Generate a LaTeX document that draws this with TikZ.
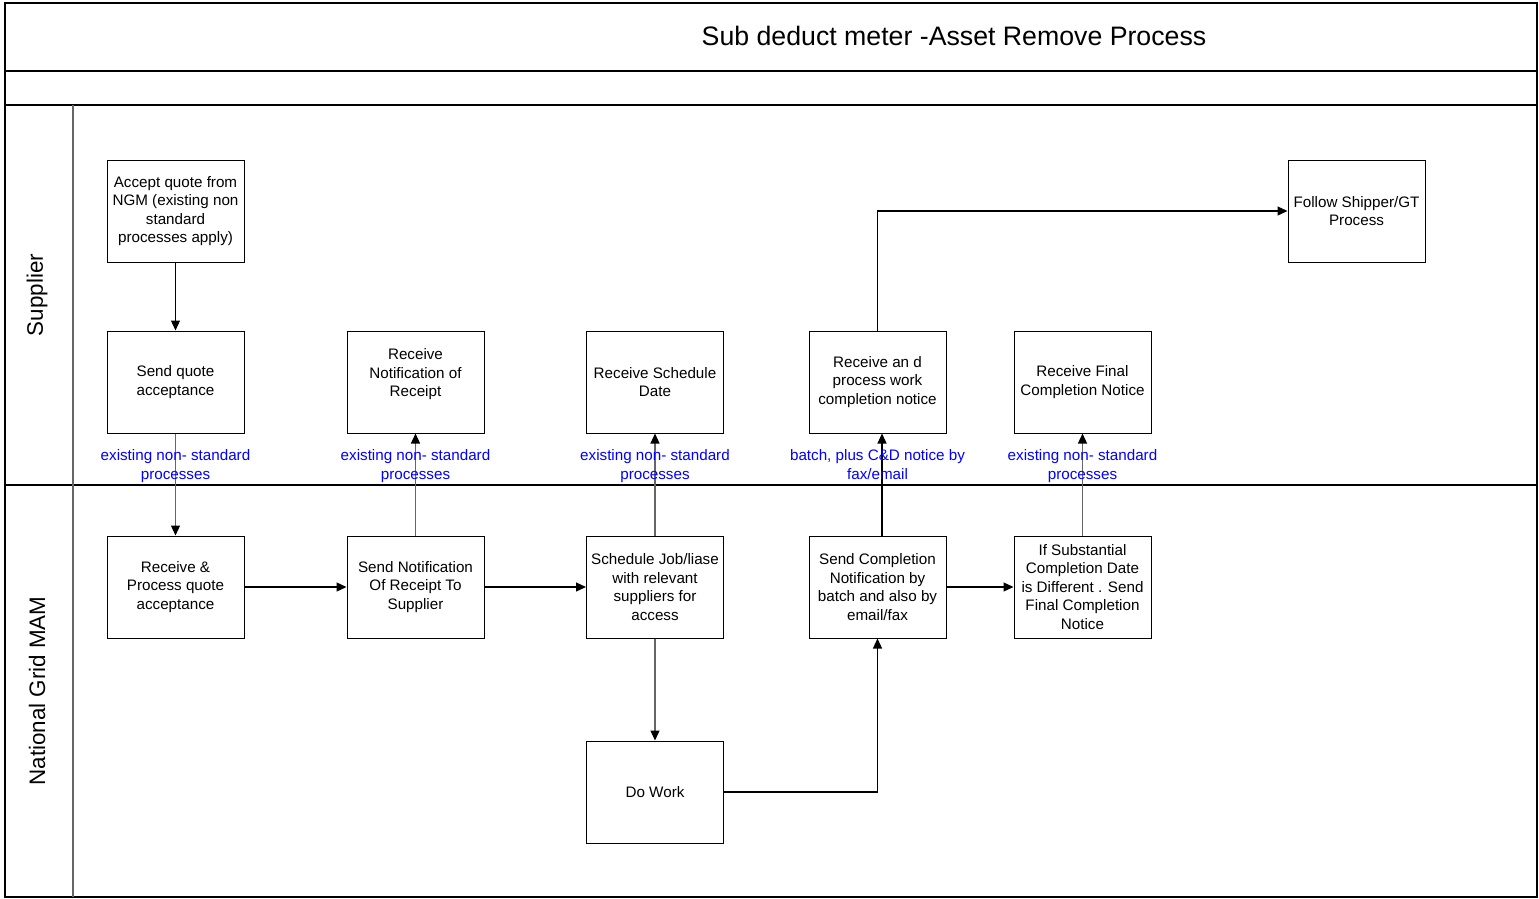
\documentclass[tikz,border=0pt]{standalone}
\usepackage{fontspec}
\setmainfont{Liberation Sans}
\usetikzlibrary{arrows.meta}
\begin{document}
\begin{tikzpicture}[x=1pt,y=-1pt,
 box/.style={draw, line width=1pt, minimum width=137pt, minimum height=102pt, align=center, inner sep=0pt, font=\fontsize{15.2}{18.5}\selectfont},
 flow/.style={line width=1.2pt, -{Triangle[length=10pt,width=9pt,color=black]}},
 gflow/.style={flow, draw=black!60},
 note/.style={text=blue, align=center, inner sep=0pt, font=\fontsize{15.2}{19}\selectfont},
 lanelabel/.style={rotate=90, inner sep=0pt, font=\fontsize{22.4}{26}\selectfont},
 frame/.style={line width=1.3pt}
]
\useasboundingbox (0,0) rectangle (1539,899);
% frame
\draw[frame] (5,3) rectangle (1537,897);
\draw[frame] (5,71) -- (1537,71);
\draw[frame] (5,105) -- (1537,105);
\draw[frame] (5,485) -- (1537,485);
\draw[frame, draw=black!60] (73,105) -- (73,897);
\node[inner sep=0pt, font=\fontsize{26.7}{30}\selectfont] (title) at (954,36) {Sub deduct meter -Asset Remove Process};
\node[lanelabel] (lsup) at (37,295) {Supplier};
\node[lanelabel] (lngm) at (37,691) {National Grid MAM};

% supplier lane
\node[box] (acc) at (175.5,211) {Accept quote from\\NGM (existing non\\standard\\processes apply)};
\node[box] (sqa) at (175.5,382) {Send quote\\acceptance};
\node[box] (rnr) at (415.5,382) {Receive\\Notification of\\Receipt\\\mbox{}};
\node[box] (rsd) at (655,382) {Receive Schedule\\Date};
\node[box] (rpw) at (877.5,382) {Receive an d\\process work\\completion notice};
\node[box] (rfc) at (1082.5,382) {Receive Final\\Completion Notice};
\node[box] (fsp) at (1356.5,211) {Follow Shipper/GT\\Process};

% NGM lane
\node[box] (rpq) at (175.5,587) {Receive \&\\Process quote\\acceptance};
\node[box] (snr) at (415.5,587) {Send Notification\\Of Receipt To\\Supplier};
\node[box] (sjl) at (655,587) {Schedule Job/liase\\with relevant\\suppliers for\\access};
\node[box] (scn) at (877.5,587) {Send Completion\\Notification by\\batch and also by\\email/fax};
\node[box] (isc) at (1082.5,587) {If Substantial\\Completion Date\\is Different . Send\\Final Completion\\Notice};
\node[box] (dw) at (655,792) {Do Work};

% connectors
\draw[flow] (acc) -- (sqa);
\draw[gflow] (sqa) -- (rpq);
\draw[gflow] (snr) -- (rnr);
\draw[gflow] (sjl) -- (rsd);
\draw[flow] ([xshift=4.5pt]scn.north) -- ([xshift=4.5pt]rpw.south);
\draw[gflow] (isc) -- (rfc);
\draw[flow] (rpw.north) |- (fsp.west);
\draw[flow] (rpq) -- (snr);
\draw[flow] (snr) -- (sjl);
\draw[flow] (scn) -- (isc);
\draw[gflow] (sjl) -- (dw);
\draw[flow] (dw.east) -| (scn.south);

% notes
\node[note] (n1) at (175.5,466.5) {existing non- standard\\processes};
\node[note] (n2) at (415.5,466.5) {existing non- standard\\processes};
\node[note] (n3) at (655,466.5) {existing non- standard\\processes};
\node[note] (n4) at (877.5,464.5) {batch, plus C\&D notice by\\fax/email};
\node[note] (n5) at (1082.5,466.5) {existing non- standard\\processes};
\end{tikzpicture}
\end{document}
